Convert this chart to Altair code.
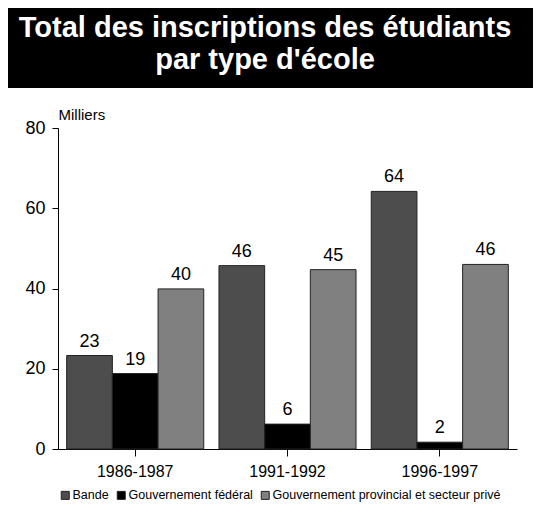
import altair as alt
import pandas as pd

# ---- data ----
periods = ["1986-1987", "1991-1992", "1996-1997"]
types = ["Bande", "Gouvernement fédéral", "Gouvernement provincial et secteur privé"]
bande = [23.3, 45.7, 64.2]
federal = [18.8, 6.2, 1.7]
provincial = [39.9, 44.7, 46.0]
y_ticks = [0, 20, 40, 60, 80]
title_lines = ["Total des inscriptions des étudiants", "par type d'école"]
y_title = "Milliers"
colors = ["#4d4d4d", "#000000", "#808080"]

rows = []
for i, p in enumerate(periods):
    for t, series in zip(types, [bande, federal, provincial]):
        rows.append({"period": p, "type": t, "value": series[i]})
df = pd.DataFrame(rows)

FONT = "Liberation Sans"
W, H = 459, 321

x_enc = alt.X(
    "period:N", sort=periods,
    scale=alt.Scale(paddingInner=0.1, paddingOuter=0.057),
    axis=alt.Axis(title=None, labelAngle=0, labelFontSize=16, labelColor="black",
                  labelPadding=7, tickSize=7, tickColor="black", domainColor="black",
                  labelFont=FONT),
)
xo_enc = alt.XOffset("type:N", sort=types, scale=alt.Scale(paddingInner=0, paddingOuter=0))
y_enc = alt.Y(
    "value:Q",
    scale=alt.Scale(domain=[0, 80], nice=False),
    axis=alt.Axis(values=y_ticks, title=y_title, grid=False, labelFontSize=18,
                  labelColor="black", labelPadding=7, tickSize=6, tickColor="black",
                  domainColor="black", titleFontSize=15, titleFontWeight="normal",
                  titleColor="black", titleAngle=0, titleAlign="left",
                  titleBaseline="alphabetic", titleX=0, titleY=-9, labelFont=FONT,
                  titleFont=FONT),
)

base = alt.Chart(df)
bars = base.mark_bar(stroke="#222222", strokeWidth=1).encode(
    x=x_enc, xOffset=xo_enc, y=y_enc,
    color=alt.Color(
        "type:N", sort=types,
        scale=alt.Scale(domain=types, range=colors),
        legend=alt.Legend(orient="none", legendX=1, legendY=361, direction="horizontal",
                          title=None, symbolType="square", symbolSize=64,
                          symbolStrokeColor="#222222", symbolStrokeWidth=1,
                          labelFontSize=12.5, labelOffset=1, columnPadding=6,
                          labelLimit=400, labelColor="black", labelFont=FONT),
    ),
)
labels = base.mark_text(dy=-9, baseline="alphabetic", fontSize=18, font=FONT,
                        color="black").encode(
    x=alt.X("period:N", sort=periods), xOffset=alt.XOffset("type:N", sort=types),
    y="value:Q", text=alt.Text("value:Q", format=".0f"),
)

one = pd.DataFrame({"k": [0]})
banner = alt.Chart(one).mark_rect(color="black").encode(
    x=alt.value(-50), x2=alt.value(W + 16), y=alt.value(-120), y2=alt.value(-40)
)
t1 = alt.Chart(one).mark_text(font=FONT, fontSize=29, fontWeight="bold", color="white",
                              align="center", baseline="alphabetic").encode(
    x=alt.value(207), y=alt.value(-91), text=alt.value(title_lines[0]))
t2 = alt.Chart(one).mark_text(font=FONT, fontSize=29, fontWeight="bold", color="white",
                              align="center", baseline="alphabetic").encode(
    x=alt.value(207), y=alt.value(-59.5), text=alt.value(title_lines[1]))

chart = alt.layer(banner, bars, labels, t1, t2).properties(
    width=W, height=H,
    autosize=alt.AutoSizeParams(type="none"),
    padding={"left": 50, "top": 120, "right": 16, "bottom": 63},
    background="white",
).configure(font=FONT).configure_view(stroke=None)

chart.save("out.html", embed_options={"renderer": "svg", "actions": False})
